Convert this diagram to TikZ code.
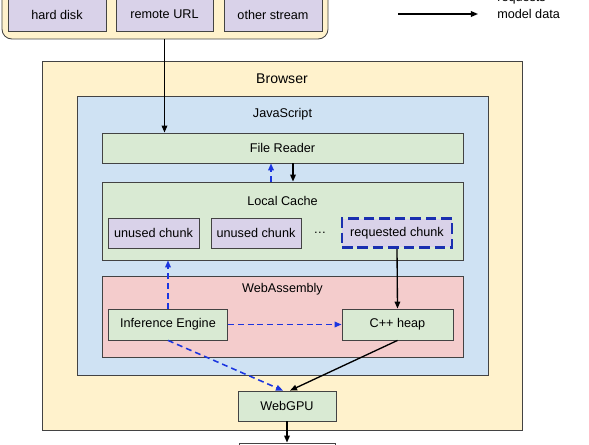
\documentclass[tikz,border=0pt]{standalone}
\usepackage{fontspec}
\setmainfont{Liberation Sans}
\usetikzlibrary{arrows.meta,calc,positioning}
\definecolor{boxedge}{HTML}{434343}
\definecolor{browserfill}{HTML}{FFF2CC}
\definecolor{jsfill}{HTML}{CFE2F3}
\definecolor{greenfill}{HTML}{D9EAD3}
\definecolor{wasmfill}{HTML}{F4CCCC}
\definecolor{chunkfill}{HTML}{D9D2E9}
\definecolor{reqblue}{HTML}{1A35E0}
\definecolor{chunkblue}{HTML}{1A2FB0}
\tikzset{flow/.style={-{Triangle[length=5pt,width=4pt]}, line width=0.95pt},
  ask/.style={flow, draw=reqblue, line width=1.1pt, dash pattern=on 4.2pt off 2.8pt},
  blk/.style={draw=boxedge, line width=0.6pt, align=center, inner sep=1pt}}

\begin{document}
\begin{tikzpicture}[font=\fontsize{9}{11}\selectfont]
  \useasboundingbox (0,0) rectangle (14.725,-11.125);
  % data sources (top, cut off)
  \node[blk, fill=browserfill, rounded corners=7pt, minimum width=81.5mm, minimum height=14.75mm] (src) at (4.125,-0.2375) {};
  \node[blk, fill=chunkfill, minimum width=24.5mm, minimum height=8.25mm] (disk) at (1.425,-0.3625) {hard disk};
  \node[blk, fill=chunkfill, minimum width=24.25mm, minimum height=8.25mm] (rurl) at (4.1125,-0.3625) {remote URL};
  \node[blk, fill=chunkfill, minimum width=24.5mm, minimum height=8.25mm] (ostr) at (6.825,-0.3625) {other stream};
  % legend
  \coordinate (lgA) at (9.95,-0.35);
  \coordinate (lgB) at (11.95,-0.35);
  \draw[flow] (lgA) -- (lgB);
  \node[anchor=base west, inner sep=0pt] (lgreq) at (12.425,-0.03) {requests};
  \node[anchor=west, inner sep=0pt] (lgdata) at (12.425,-0.35) {model data};
  % browser and javascript
  \node[blk, fill=browserfill, minimum width=120mm, minimum height=92.25mm] (brw) at (7.05,-6.1375) {};
  \node[font=\fontsize{10}{12}\selectfont] (brwlbl) at (7.05,-1.975) {Browser};
  \node[blk, fill=jsfill, minimum width=102.75mm, minimum height=69.75mm] (js) at (7.0625,-5.8875) {};
  \node (jslbl) at (7.0625,-2.85) {JavaScript};
  \node[blk, fill=greenfill, minimum width=90.25mm, minimum height=7.5mm] (frd) at (7.0625,-3.7) {File Reader};
  % local cache
  \node[blk, fill=greenfill, minimum width=90.25mm, minimum height=19.5mm] (lcache) at (7.0625,-5.525) {};
  \node (lclbl) at (7.0625,-5.025) {Local Cache};
  \node[blk, fill=chunkfill, minimum width=22.75mm, minimum height=7.5mm] (ch1) at (3.8375,-5.825) {unused chunk};
  \node[blk, fill=chunkfill, minimum width=22.5mm, minimum height=7.5mm] (ch2) at (6.4,-5.825) {unused chunk};
  \node (dots) at (8.0,-5.825) {\dots};
  \node[blk, fill=chunkfill, draw=chunkblue, line width=2.1pt, dash pattern=on 7.5pt off 3.5pt, minimum width=27.5mm, minimum height=7.2mm] (rch) at (9.925,-5.825) {requested chunk};
  % webassembly
  \node[blk, fill=wasmfill, minimum width=90.25mm, minimum height=20.25mm] (wasm) at (7.0625,-7.9125) {};
  \node (wasmlbl) at (7.0625,-7.225) {WebAssembly};
  \node[blk, fill=greenfill, minimum width=29.75mm, minimum height=7.75mm] (ieng) at (4.2,-8.1125) {Inference Engine};
  \node[blk, fill=greenfill, minimum width=27.75mm, minimum height=7.75mm] (heap) at (9.9375,-8.1125) {C++ heap};
  % webgpu and below
  \node[blk, fill=greenfill, minimum width=24.5mm, minimum height=7.5mm] (gpu) at (7.175,-10.15) {WebGPU};
  \node[blk, fill=white, minimum width=24mm, minimum height=7.5mm] (sink) at (7.175,-11.45) {};
  % connectors
  \draw[flow] (rurl.south |- src.south) -- (rurl.south |- frd.north);
  \draw[ask] ($(lcache.north)+(-0.2875,0)$) -- ($(frd.south)+(-0.2875,0)$);
  \draw[flow] ($(frd.south)+(0.2625,0)$) -- ($(lcache.north)+(0.2625,0)$);
  \draw[ask] (ieng.north) -- (ieng.north |- lcache.south);
  \draw[ask] (ieng.east) -- (heap.west);
  \draw[flow] (rch.south) -- (heap.north);
  \draw[ask] (ieng.south) -- ($(gpu.north)+(-0.1,0)$);
  \draw[flow] (heap.south) -- ($(gpu.north)+(0.075,0)$);
  \draw[flow] (gpu.south) -- (sink.north);
\end{tikzpicture}
\end{document}
